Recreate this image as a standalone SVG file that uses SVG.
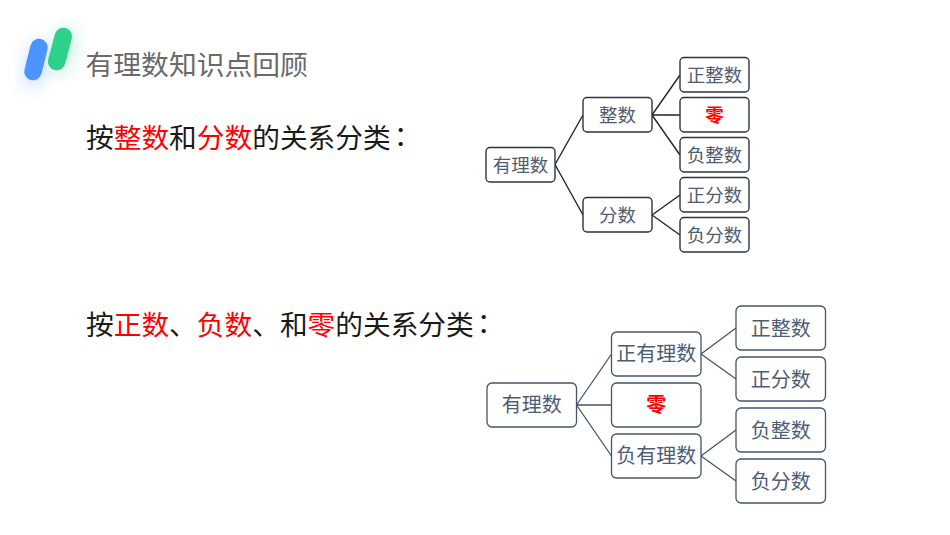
<svg xmlns="http://www.w3.org/2000/svg" width="950" height="535" viewBox="0 0 950 535">
<style>
text{font-family:"Noto Sans CJK SC","Noto Sans",sans-serif}
.title{font-size:27.8px;fill:#6a6a6a}
.body{font-size:27.7px;fill:#1a1a1a}
.red{fill:#f00}
.a rect{fill:#fff;stroke:#2b3340;stroke-width:1.4}
.a text{font-size:18.5px;fill:#4f5d73;text-anchor:middle}
.b rect{fill:#fff;stroke:#44546a;stroke-width:1.3}
.b text{font-size:20px;fill:#4f5d73;text-anchor:middle}
text.zero{fill:#f00;font-weight:700}
.ca{stroke:#1f2630;stroke-width:1.4;fill:none}
.cb{stroke:#44546a;stroke-width:1.3;fill:none}
</style>
<defs>
<filter id="glow" filterUnits="userSpaceOnUse" x="0" y="0" width="130" height="130"><feGaussianBlur stdDeviation="8"/></filter>
</defs>
<g id="logo">
<line x1="39" y1="52" x2="33" y2="77" stroke="#4d94ff" stroke-opacity=".3" stroke-width="20" stroke-linecap="round" filter="url(#glow)"/>
<line x1="66" y1="38" x2="60" y2="63" stroke="#2ed18a" stroke-opacity=".28" stroke-width="20" stroke-linecap="round" filter="url(#glow)"/>
<line x1="39" y1="47.500" x2="33" y2="71.500" stroke="#4d94ff" stroke-width="17.500" stroke-linecap="round"/>
<line x1="63.300" y1="36.500" x2="56.700" y2="61.500" stroke="#2ed18a" stroke-width="17.500" stroke-linecap="round"/>
</g>
<text id="title" class="title" x="85.500" y="75">有理数知识点回顾</text>
<text id="line1" class="body" x="86" y="148">按<tspan class="red">整数</tspan>和<tspan class="red">分数</tspan>的关系分类<tspan dx="3" dy="-2.500">：</tspan></text>
<text id="line2" class="body" x="86" y="335">按<tspan class="red">正数</tspan>、<tspan class="red">负数</tspan>、和<tspan class="red">零</tspan>的关系分类<tspan dx="3" dy="-2.500">：</tspan></text>
<g id="connectors">
<path class="ca" d="M555 164.500L583 115M555 164.500L583 215M652 115L680 75M652 115H680M652 115L680 155M652 215L680 195M652 215L680 235"/>
<path class="cb" d="M576.500 405L611.500 354M576.500 405H611.500M576.500 405L611.500 456M701 354L736 328M701 354L736 379M701 456L736 430M701 456L736 481"/>
</g>
<g class="a">
<g id="a-root"><rect x="486" y="147.500" width="69" height="34.500" rx="4"/><text x="520.500" y="172">有理数</text></g>
<g id="a-int"><rect x="583" y="97.500" width="69" height="34.500" rx="4"/><text x="617.500" y="122">整数</text></g>
<g id="a-frac"><rect x="583" y="197.500" width="69" height="34.500" rx="4"/><text x="617.500" y="222">分数</text></g>
<g id="a-posint"><rect x="680" y="57.500" width="69" height="34.500" rx="4"/><text x="714.500" y="82">正整数</text></g>
<g id="a-zero"><rect x="680" y="97.500" width="69" height="34.500" rx="4"/><text class="zero" x="714.500" y="122">零</text></g>
<g id="a-negint"><rect x="680" y="137.500" width="69" height="34.500" rx="4"/><text x="714.500" y="162">负整数</text></g>
<g id="a-posfrac"><rect x="680" y="177.500" width="69" height="34.500" rx="4"/><text x="714.500" y="202">正分数</text></g>
<g id="a-negfrac"><rect x="680" y="217.500" width="69" height="34.500" rx="4"/><text x="714.500" y="242">负分数</text></g>
</g>
<g class="b">
<g id="b-root"><rect x="487" y="383" width="89.500" height="44" rx="5"/><text x="531.700" y="412">有理数</text></g>
<g id="b-pos"><rect x="611.500" y="332" width="89.500" height="44" rx="5"/><text x="656.200" y="361">正有理数</text></g>
<g id="b-zero"><rect x="611.500" y="383" width="89.500" height="44" rx="5"/><text class="zero" x="656.200" y="412">零</text></g>
<g id="b-neg"><rect x="611.500" y="434" width="89.500" height="44" rx="5"/><text x="656.200" y="463">负有理数</text></g>
<g id="b-posint"><rect x="736" y="306" width="89.500" height="44" rx="5"/><text x="780.700" y="336">正整数</text></g>
<g id="b-posfrac"><rect x="736" y="357" width="89.500" height="44" rx="5"/><text x="780.700" y="387">正分数</text></g>
<g id="b-negint"><rect x="736" y="408" width="89.500" height="44" rx="5"/><text x="780.700" y="438">负整数</text></g>
<g id="b-negfrac"><rect x="736" y="459" width="89.500" height="44" rx="5"/><text x="780.700" y="489">负分数</text></g>
</g>
</svg>
